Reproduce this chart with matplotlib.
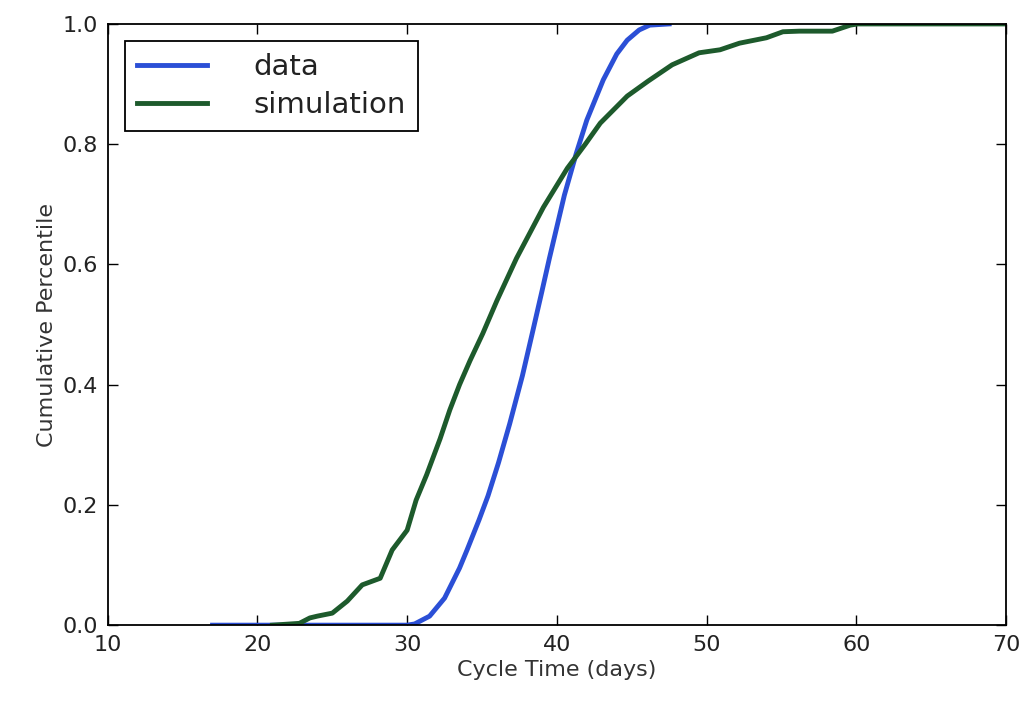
import matplotlib
matplotlib.use('Agg')
import matplotlib.pyplot as plt

data_x = [17, 20, 25, 30, 30.5, 31.5, 32.5, 33.5, 34.0, 34.8, 35.4, 36.1, 36.85, 37.7,
          38.4, 39.0, 39.5, 40.5, 41.3, 42.0, 43.1, 44.0, 44.7, 45.5, 46.2, 47.5]
data_y = [0.0, 0.0, 0.0, 0.0, 0.002, 0.015, 0.045, 0.095, 0.125, 0.175, 0.215, 0.27, 0.335, 0.415,
          0.49, 0.555, 0.61, 0.715, 0.785, 0.84, 0.907, 0.95, 0.973, 0.99, 0.998, 1.0]

sim_x = [21, 22.8, 23.5, 24.0, 25.0, 26.0, 27.0, 28.2, 29.0, 30.0, 30.6, 31.3, 32.2, 32.85,
         33.5, 34.2, 35.05, 36.0, 37.3, 39.1, 40.7, 41.9, 42.9, 44.7, 46.1, 47.7, 49.5,
         50.9, 52.2, 54.0, 55.1, 56.2, 58.4, 59.6, 60.1, 65, 70]
sim_y = [0.0, 0.003, 0.012, 0.015, 0.02, 0.04, 0.067, 0.078, 0.125, 0.158, 0.208, 0.25, 0.31, 0.358,
         0.40, 0.44, 0.485, 0.54, 0.61, 0.695, 0.76, 0.80, 0.835, 0.88, 0.905, 0.932, 0.952,
         0.957, 0.968, 0.977, 0.987, 0.988, 0.988, 0.998, 1.0, 1.0, 1.0]

plt.rcParams['xtick.direction'] = 'in'
plt.rcParams['ytick.direction'] = 'in'
plt.rcParams['xtick.top'] = True
plt.rcParams['ytick.right'] = True

fig = plt.figure(figsize=(10.26, 7.04), dpi=100)
ax = fig.add_axes([0.105, 0.112, 0.8755, 0.854])

ax.plot(data_x, data_y, color='#2b4fd6', linewidth=3.5, label='data')
ax.plot(sim_x, sim_y, color='#1d5a2c', linewidth=3.5, label='simulation')

ax.set_xlim(10, 70)
ax.set_ylim(0, 1.0)
ax.set_xticks([10, 20, 30, 40, 50, 60, 70])
ax.set_yticks([0.0, 0.2, 0.4, 0.6, 0.8, 1.0])
ax.set_yticklabels(['0.0', '0.2', '0.4', '0.6', '0.8', '1.0'])
ax.tick_params(labelsize=16, length=7, width=1, color='black', pad=7, labelcolor='#222222')
for sp in ax.spines.values():
    sp.set_linewidth(1.3)

ax.set_xlabel('Cycle Time (days)', fontsize=16, color='#333333')
ax.set_ylabel('Cumulative Percentile', fontsize=16, color='#333333')

leg = ax.legend(loc='upper left', fontsize=21, fancybox=False, framealpha=1,
                edgecolor='black', handlelength=2.4, borderpad=0.4, labelspacing=0.35,
                handletextpad=1.6, borderaxespad=0.6)
leg.get_frame().set_linewidth(1.3)
for t in leg.get_texts():
    t.set_color('#222222')

fig.savefig('out.png', dpi=100)
